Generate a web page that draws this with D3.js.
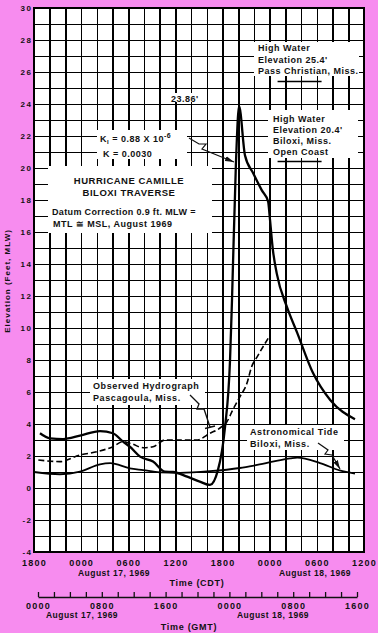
<!DOCTYPE html>
<html>
<head>
<meta charset="utf-8">
<script src="https://cdn.jsdelivr.net/npm/d3@7"></script>
<style>
body { margin: 0; background: #f78cef; }
svg text { font-family: "Liberation Sans", Arial, sans-serif; font-weight: bold; fill: #111; }
</style>
</head>
<body>
<script>
// hours after 1800 CDT, Aug 16 1969 -> elevation in feet MLW
const surgeHours = [0.76, 2.04, 3.7, 5.85, 8.4, 10.05, 11.33, 12.2, 13.5, 15.15, 16.67, 17.7, 19.5, 21.1, 22.4, 23.4, 24.3, 24.95, 25.2, 25.7, 26.1, 26.85, 27.9, 29.0, 29.8, 30.0, 30.4, 30.9, 32.2, 33.5, 35.5, 37.7, 40.85];
const surgeFeet  = [3.42, 3.1, 3.06, 3.27, 3.56, 3.42, 2.9, 2.58, 1.96, 1.65, 1.02, 1.0, 0.71, 0.4, 0.19, 1.1, 3.75, 8.0, 11.75, 20.3, 23.86, 20.8, 19.67, 18.6, 17.9, 16.96, 14.9, 13.4, 11.3, 9.7, 7.2, 5.5, 4.3];

const obsHours = [0.55, 3.3, 5.85, 8.0, 10.05, 11.33, 12.5, 13.9, 15.15, 16.67, 20.7, 22.4, 23.9, 24.55, 25.3, 26.2, 27.1, 27.7, 28.4, 29.8];
const obsFeet  = [1.75, 1.65, 2.06, 2.27, 2.58, 2.9, 2.75, 2.52, 2.58, 3.0, 3.0, 3.42, 3.83, 4.14, 4.88, 5.7, 6.54, 7.58, 8.2, 9.35];

const tideHours = [0, 3.3, 5.85, 8.4, 9.7, 12.2, 13.9, 16.0, 18.6, 22.4, 26.2, 28.4, 32.6, 33.5, 36.4, 38.9, 40.85];
const tideFeet  = [1.0, 0.86, 1.02, 1.48, 1.55, 1.23, 1.12, 0.98, 0.95, 1.05, 1.25, 1.44, 1.85, 1.9, 1.56, 1.1, 0.9];

const highWater = [25.4, 20.4];   // Pass Christian, Biloxi

const cdtTicks  = [0, 6, 12, 18, 24, 30, 36, 42];
const cdtLabels = ["1800", "0000", "0600", "1200", "1800", "0000", "0600", "1200"];
const gmtTicks  = [0, 8, 16, 24, 32, 40];
const gmtLabels = ["0000", "0800", "1600", "0000", "0800", "1600"];
const elevTicks = d3.range(-4, 31, 2);

const w = 378, h = 633;
const pL = 34, pR = 364, pT = 8, pB = 552;

const svg = d3.select("body").append("svg")
    .attr("width", w)
    .attr("height", h);

const x = d3.scaleLinear().domain([0, 42]).range([pL, pR]);
const y = d3.scaleLinear().domain([-4, 30]).range([pB, pT]);
const xg = d3.scaleLinear().domain([0, 40]).range([38, 357]);

svg.append("defs").append("marker")
    .attr("id", "arr")
    .attr("markerUnits", "userSpaceOnUse")
    .attr("markerWidth", 9).attr("markerHeight", 6)
    .attr("refX", 9).attr("refY", 3)
    .attr("orient", "auto")
    .append("path").attr("d", "M0,0.5 L9,3 L0,5.5 Z").attr("fill", "#111");

svg.append("rect")
    .attr("x", pL).attr("y", pT)
    .attr("width", pR - pL).attr("height", pB - pT)
    .attr("fill", "#fff");

// grid via axes
const gx = svg.append("g")
    .attr("transform", "translate(0," + pB + ")")
    .call(d3.axisBottom(x)
        .tickValues(d3.range(0, 43, 2))
        .tickSize(-(pB - pT))
        .tickPadding(8)
        .tickFormat(d => {
            const i = cdtTicks.indexOf(d);
            return i < 0 ? "" : cdtLabels[i];
        }));

const gy = svg.append("g")
    .attr("transform", "translate(" + pL + ",0)")
    .call(d3.axisLeft(y)
        .tickValues(d3.range(-4, 31, 1))
        .tickSize(-(pR - pL))
        .tickPadding(1.5)
        .tickFormat(d => elevTicks.includes(d) ? d : ""));

[gx, gy].forEach(g => {
    g.select(".domain").remove();
    g.selectAll(".tick line")
        .attr("stroke", "#000")
        .attr("stroke-width", 1.5)
        .attr("shape-rendering", "crispEdges");
    g.selectAll(".tick text")
        .style("font-family", "Liberation Sans, Arial, sans-serif")
        .style("font-weight", "bold")
        .attr("fill", "#111");
});
gx.selectAll(".tick text").style("font-size", "9px").style("letter-spacing", "1.2px");
gy.selectAll(".tick text").style("font-size", "8px").style("letter-spacing", "1.5px");

svg.append("rect")
    .attr("x", pL).attr("y", pT)
    .attr("width", pR - pL).attr("height", pB - pT)
    .attr("fill", "none").attr("stroke", "#000").attr("stroke-width", 2)
    .attr("shape-rendering", "crispEdges");

// white patches where the lettering sits
const boxes = [
    [254, 42, 359, 76],
    [268, 110, 358, 158],
    [97, 130, 187, 159],
    [48, 166, 212, 233],
    [167, 93, 203, 102],
    [90, 379, 205, 405],
    [247, 425, 344, 450]
];
svg.append("g").selectAll("rect").data(boxes).join("rect")
    .attr("x", d => d[0]).attr("y", d => d[1])
    .attr("width", d => d[2] - d[0]).attr("height", d => d[3] - d[1])
    .attr("fill", "#fff");

// high water marks
svg.append("g").selectAll("line").data(highWater).join("line")
    .attr("x1", x(31)).attr("x2", x(36.6))
    .attr("y1", d => y(d)).attr("y2", d => y(d))
    .attr("stroke", "#000").attr("stroke-width", 1.5);

const line = (hs, vs) => d3.line()
    .x(i => x(hs[i]))
    .y(i => y(vs[i]))
    .curve(d3.curveMonotoneX)(d3.range(hs.length));

svg.append("path").attr("d", line(tideHours, tideFeet))
    .attr("fill", "none").attr("stroke", "#000").attr("stroke-width", 1.8);
svg.append("path").attr("d", line(obsHours, obsFeet))
    .attr("fill", "none").attr("stroke", "#000").attr("stroke-width", 1.6)
    .attr("stroke-dasharray", "6,3");
svg.append("path").attr("d", line(surgeHours, surgeFeet))
    .attr("fill", "none").attr("stroke", "#000").attr("stroke-width", 2.3)
    .attr("stroke-linejoin", "round");

// leaders
svg.append("path").attr("d", "M189,138 L199,144 L206,144 L202,149 L234,162")
    .attr("fill", "none").attr("stroke", "#111").attr("stroke-width", 1.2)
    .attr("marker-end", "url(#arr)");
svg.append("path").attr("d", "M190,395 L199,404 L197,409 L204,409 L210,427 M205,428.5 L215,426")
    .attr("fill", "none").attr("stroke", "#111").attr("stroke-width", 1.3);
svg.append("path").attr("d", "M318,443 L328,450 L325,454 L332,455 L340,469")
    .attr("fill", "none").attr("stroke", "#111").attr("stroke-width", 1.2)
    .attr("marker-end", "url(#arr)");

function label(txt, px, py, opts) {
    opts = opts || {};
    return svg.append("text")
        .attr("x", px).attr("y", py)
        .attr("text-anchor", opts.anchor || "start")
        .style("font-size", (opts.size || 9) + "px")
        .style("letter-spacing", (opts.ls === undefined ? 0.5 : opts.ls) + "px")
        .text(txt);
}

label("High Water", 258, 51);
label("Elevation 25.4'", 258, 63);
label("Pass Christian, Miss.", 258, 74);
label("High Water", 273, 122);
label("Elevation 20.4'", 273, 133);
label("Biloxi, Miss.", 273, 144);
label("Open Coast", 273, 155);
label("23.86'", 171, 102);

const k1 = label("K", 100, 142);
k1.append("tspan").attr("dy", 2).style("font-size", "6px").text("I");
k1.append("tspan").attr("dy", -2).text(" = 0.88 X 10");
k1.append("tspan").attr("dy", -4).style("font-size", "7px").text("-6");
label("K = 0.0030", 103, 157);

label("HURRICANE CAMILLE", 129, 184, {anchor: "middle", size: 9.5});
label("BILOXI TRAVERSE", 129, 196, {anchor: "middle", size: 9.5});
label("Datum Correction 0.9 ft. MLW =", 52, 215, {ls: 0.35});
label("MTL \u2245 MSL,  August 1969", 53, 227, {ls: 0.5});

label("Observed Hydrograph", 93, 389, {ls: 0.6});
label("Pascagoula, Miss.", 93, 401, {ls: 0.6});
label("Astronomical Tide", 250, 435, {ls: 0.6});
label("Biloxi, Miss.", 250, 447, {ls: 0.6});

// axis titles and dates
svg.append("text")
    .attr("transform", "translate(10,281) rotate(-90)")
    .attr("text-anchor", "middle")
    .style("font-size", "8px").style("letter-spacing", "1px")
    .text("Elevation (Feet, MLW)");

label("August 17, 1969", 114, 576, {anchor: "middle", size: 8.5});
label("August 18, 1969", 315, 576, {anchor: "middle", size: 8.5});
label("Time (CDT)", 197, 586, {anchor: "middle", ls: 0.7});

// GMT axis
const gt = svg.append("g")
    .attr("transform", "translate(0,597)")
    .call(d3.axisBottom(xg)
        .tickValues(d3.range(0, 41, 2))
        .tickSizeInner(-5).tickSizeOuter(0)
        .tickFormat(""));
const gl = svg.append("g")
    .attr("transform", "translate(0,597)")
    .call(d3.axisBottom(xg)
        .tickValues(gmtTicks)
        .tickSize(0).tickPadding(5.5)
        .tickFormat((d, i) => gmtLabels[i]));
gl.select(".domain").remove();
gt.selectAll("line, path").attr("stroke", "#111").attr("stroke-width", 1.3);
gl.selectAll(".tick text")
    .style("font-family", "Liberation Sans, Arial, sans-serif")
    .style("font-weight", "bold")
    .style("font-size", "9px").style("letter-spacing", "1.2px")
    .attr("fill", "#111");

label("August 17, 1969", 82, 618, {anchor: "middle", size: 8.5});
label("August 18, 1969", 273, 618, {anchor: "middle", size: 8.5});
label("Time  (GMT)", 189, 630, {anchor: "middle", ls: 0.7});
</script>
</body>
</html>
